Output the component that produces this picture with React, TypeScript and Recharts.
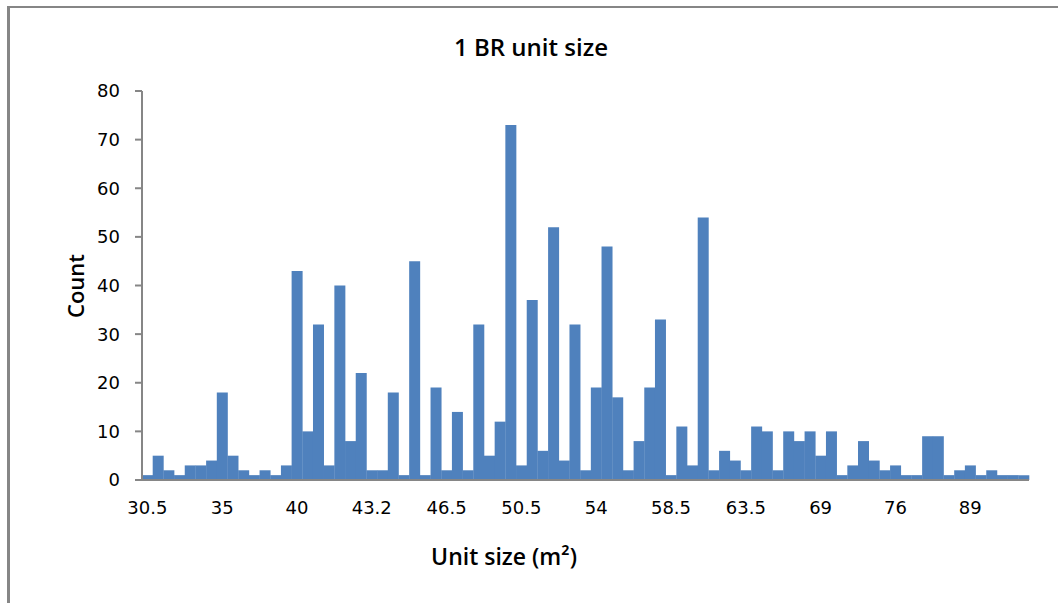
import React from 'react';
import { BarChart, Bar, XAxis, YAxis } from 'recharts';

const counts: number[] = [
  1, 5, 2, 1, 3, 3, 4, 18, 5, 2,
  1, 2, 1, 3, 43, 10, 32, 3, 40, 8,
  22, 2, 2, 18, 1, 45, 1, 19, 2, 14,
  2, 32, 5, 12, 73, 3, 37, 6, 52, 4,
  32, 2, 19, 48, 17, 2, 8, 19, 33, 1,
  11, 3, 54, 2, 6, 4, 2, 11, 10, 2,
  10, 8, 10, 5, 10, 1, 3, 8, 4, 2,
  3, 1, 1, 9, 9, 1, 2, 3, 1, 2,
  1, 1, 1,
];

const tickLabels: string[] = ['30.5', '35', '40', '43.2', '46.5', '50.5', '54', '58.5', '63.5', '69', '76', '89'];
const yTicks: number[] = [0, 10, 20, 30, 40, 50, 60, 70, 80];
const labelStep = 7;

const data = counts.map((c, i) => ({ idx: i, count: c }));

const GRAY = '#868686';
const FONT = '"DejaVu Sans", sans-serif';
const TITLE_FONT = '"Open Sans", "Liberation Sans", sans-serif';

export default function App() {
  return (
    <div style={{ position: 'fixed', left: 0, top: 0, width: 1058, height: 603, background: '#fff', overflow: 'hidden' }}>
      <div style={{ position: 'absolute', left: 7, top: 6, width: 1100, height: 700, borderLeft: `3px solid ${GRAY}`, borderTop: `2px solid ${GRAY}` }} />
      <div style={{ position: 'absolute', left: 0, top: 0 }}>
        <BarChart
          width={1058}
          height={603}
          data={data}
          margin={{ top: 91, right: 29, left: 82, bottom: 93 }}
          barCategoryGap={0}
          barGap={0}
        >
          <XAxis
            dataKey="idx"
            type="category"
            interval={labelStep - 1}
            height={30}
            tickLine={false}
            tickMargin={15}
            axisLine={{ stroke: GRAY, strokeWidth: 2 }}
            tick={{ fill: '#000', fontSize: 18, fontFamily: FONT }}
            tickFormatter={(v: number) => tickLabels[Math.round(v / labelStep)] ?? ''}
          />
          <YAxis
            width={60}
            domain={[0, 80]}
            ticks={yTicks}
            interval={0}
            tickSize={7}
            tickMargin={15}
            axisLine={{ stroke: GRAY, strokeWidth: 2 }}
            tickLine={{ stroke: GRAY, strokeWidth: 2 }}
            tick={{ fill: '#000', fontSize: 18, fontFamily: FONT }}
          />
          <Bar dataKey="count" fill="#4F81BD" isAnimationActive={false} />
        </BarChart>
      </div>
      <div style={{ position: 'absolute', left: 331, width: 400, top: 32, textAlign: 'center', fontFamily: TITLE_FONT, fontWeight: 600, fontSize: 24, lineHeight: '30px', color: '#000' }}>
        1 BR unit size
      </div>
      <div style={{ position: 'absolute', left: 75, top: 286, transform: 'translate(-50%, -50%) rotate(-90deg)', whiteSpace: 'nowrap', fontFamily: TITLE_FONT, fontWeight: 600, fontSize: 22, lineHeight: '30px', color: '#000' }}>
        Count
      </div>
      <div style={{ position: 'absolute', left: 304, width: 400, top: 541, textAlign: 'center', fontFamily: TITLE_FONT, fontWeight: 600, fontSize: 23, lineHeight: '30px', color: '#000' }}>
        Unit size (m²)
      </div>
    </div>
  );
}
